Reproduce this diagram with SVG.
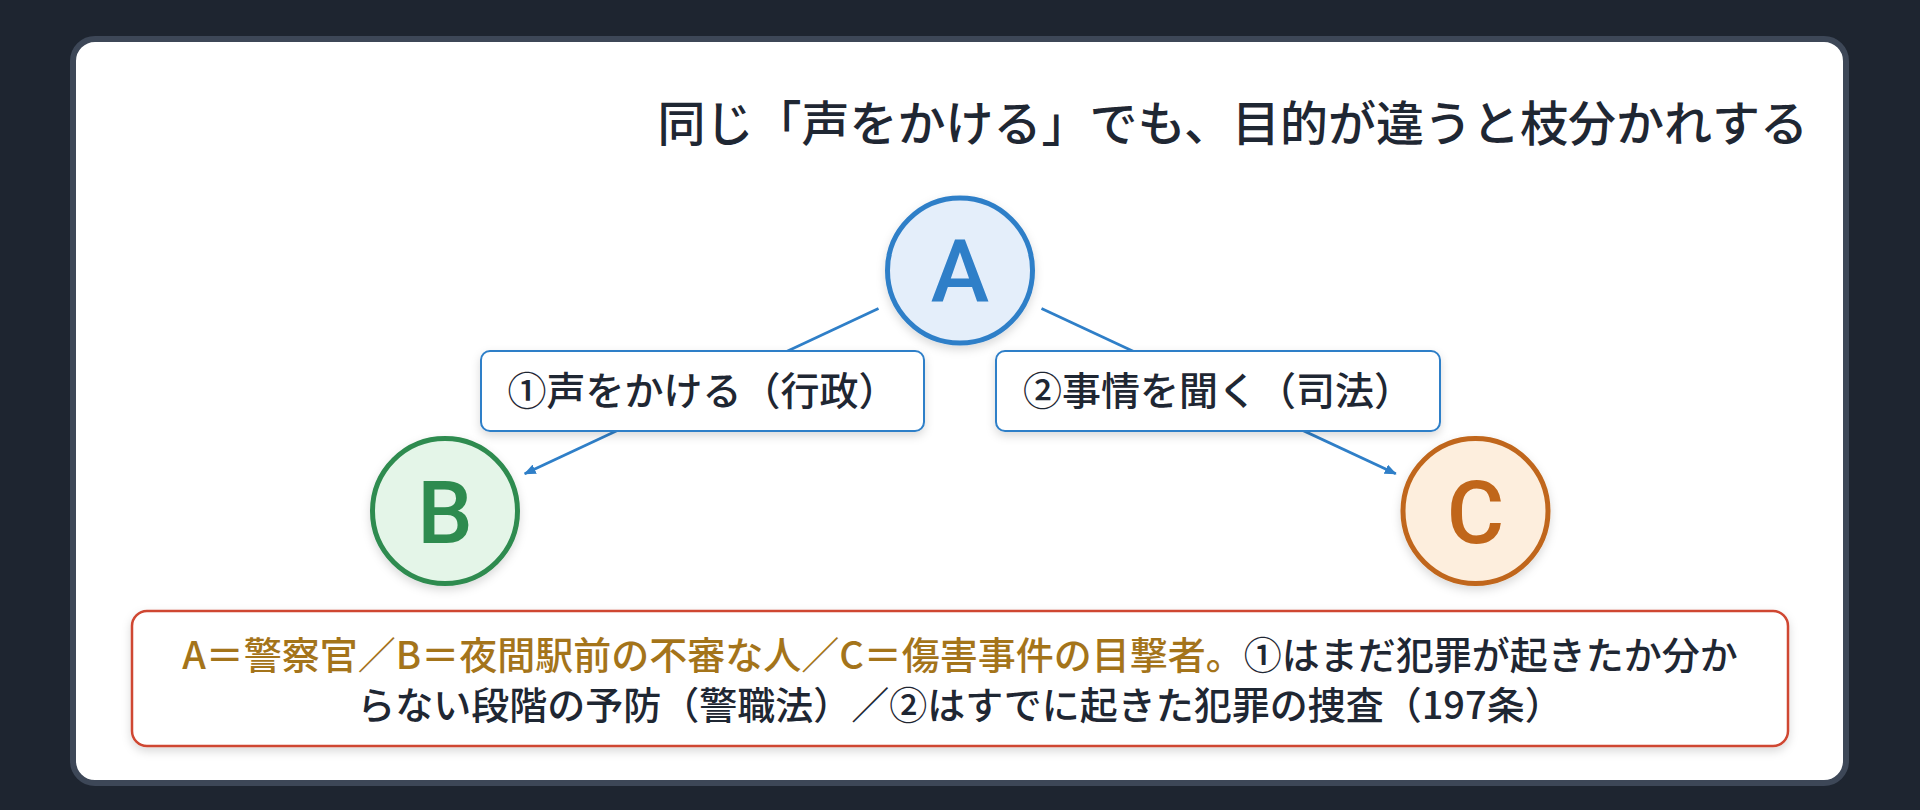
<svg xmlns="http://www.w3.org/2000/svg" width="1920" height="810" viewBox="0 0 1920 810">
<style>
.jp{font-family:"Noto Sans CJK JP","Noto Sans",sans-serif}
.title{font-size:48px;font-weight:500;fill:#1f2733}
.lbl{font-size:39px;font-weight:500;fill:#1f2733}
.note{font-size:38px;font-weight:500;fill:#1f2733}
.gold{fill:#a4741a}
.letter{font-family:Roboto,"Noto Sans",sans-serif;font-size:88px;font-weight:500}
.edge{stroke:#2f7fc8;stroke-width:2.8;fill:none}
.lbox{fill:#ffffff;stroke:#2f7fc8;stroke-width:2}
</style>
<defs>
<filter id="sh" x="-30%" y="-30%" width="160%" height="170%">
<feDropShadow dx="0" dy="4" stdDeviation="5" flood-color="#000000" flood-opacity="0.15"/>
</filter>
<marker id="arr" viewBox="0 0 12 10" refX="11" refY="5" markerWidth="12" markerHeight="10" markerUnits="userSpaceOnUse" orient="auto">
<path d="M0,0 L12,5 L0,10 Z" fill="#2f7fc8"/>
</marker>
</defs>
<rect x="0" y="0" width="1920" height="810" fill="#1e2530"/>
<rect id="card" x="73" y="39" width="1773" height="744" rx="22" fill="#ffffff" stroke="#3d4757" stroke-width="6"/>
<text class="jp title" x="1808" y="141" text-anchor="end">同じ「声をかける」でも、目的が違うと枝分かれする</text>
<g id="connectors">
<line class="edge" x1="878.5" y1="308.6" x2="524.7" y2="473.8" marker-end="url(#arr)"/>
<line class="edge" x1="1041.5" y1="308.6" x2="1395.8" y2="473.8" marker-end="url(#arr)"/>
</g>
<g id="label1">
<rect class="lbox" x="481" y="351" width="443" height="80" rx="9" filter="url(#sh)"/>
<text class="jp lbl" x="702.5" y="405" text-anchor="middle">①声をかける（行政）</text>
</g>
<g id="label2">
<rect class="lbox" x="996" y="351" width="444" height="80" rx="9" filter="url(#sh)"/>
<text class="jp lbl" x="1218" y="405" text-anchor="middle">②事情を聞く（司法）</text>
</g>
<g id="nodeA">
<circle cx="960" cy="270.5" r="72.5" fill="#e4eefa" stroke="#2f7fc8" stroke-width="5" filter="url(#sh)"/>
<text class="letter" x="960" y="302" text-anchor="middle" fill="#2f7fc8">A</text>
</g>
<g id="nodeB">
<circle cx="445" cy="511" r="72.5" fill="#e4f5e8" stroke="#2e8b4f" stroke-width="5" filter="url(#sh)"/>
<text class="letter" x="445" y="542.5" text-anchor="middle" fill="#2e8b4f">B</text>
</g>
<g id="nodeC">
<circle cx="1475.5" cy="511" r="72.5" fill="#fdeedd" stroke="#c0661a" stroke-width="5" filter="url(#sh)"/>
<text class="letter" x="1475.5" y="542.5" text-anchor="middle" fill="#c0661a">C</text>
</g>
<g id="note">
<rect x="132" y="611" width="1656" height="135" rx="15" fill="#ffffff" stroke="#cf4631" stroke-width="2.5" filter="url(#sh)"/>
<text class="jp note" x="960" y="669" text-anchor="middle"><tspan class="gold">A＝警察官／B＝夜間駅前の不審な人／C＝傷害事件の目撃者。</tspan>①はまだ犯罪が起きたか分か</text>
<text class="jp note" x="960" y="719" text-anchor="middle">らない段階の予防（警職法）／②はすでに起きた犯罪の捜査（197条）</text>
</g>
</svg>
